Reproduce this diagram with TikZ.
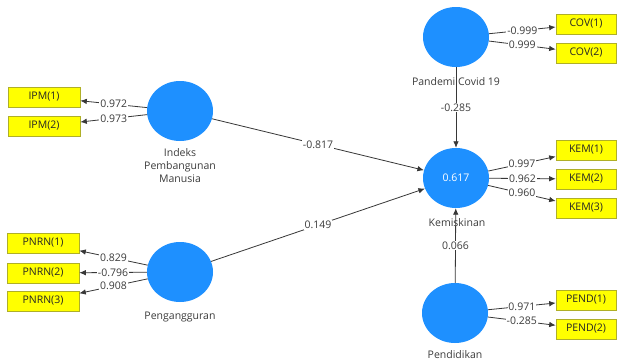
\documentclass[tikz,border=0pt]{standalone}
\usepackage{fontspec}
\setmainfont{Open Sans}
\usetikzlibrary{arrows.meta,shapes.geometric}
\definecolor{lvblue}{RGB}{30,144,255}
\definecolor{mvyellow}{RGB}{255,255,0}
\definecolor{mvborder}{RGB}{175,175,40}
\definecolor{linegray}{RGB}{55,55,55}
\definecolor{txtgray}{RGB}{60,60,60}
\tikzset{
  lv/.style={ellipse, fill=lvblue, draw=none, minimum width=66pt, minimum height=60pt, inner sep=0pt, text=white, font=\fontsize{10.5}{12}\selectfont},
  mvL/.style={rectangle, fill=mvyellow, draw=mvborder, line width=0.6pt, minimum width=72pt, minimum height=20pt, inner sep=0pt, font=\fontsize{10.5}{12}\selectfont, text=black!85},
  mvR/.style={mvL, minimum width=60pt},
  lvlabel/.style={font=\fontsize{10.5}{13}\selectfont, text=txtgray, align=center, inner sep=0pt},
  conn/.style={draw=linegray, line width=0.8pt, -{Latex[length=6.5pt,width=5.5pt]}},
  wlab/.style={midway, fill=white, inner sep=0.8pt, font=\fontsize{10.5}{12}\selectfont, text=txtgray}
}
\begin{document}
\begin{tikzpicture}[x=1pt,y=-1pt]
\useasboundingbox (0,0) rectangle (621,362);
\clip (0,0) rectangle (621,362);
\fill[white] (0,0) rectangle (621,362);
% latent variables
\node[lv] (ipm) at (180,111) {};
\node[lv] (cov) at (456,37) {};
\node[lv] (kem) at (456,178) {0.617};
\node[lv] (png) at (180,272) {};
\node[lv] (pnd) at (455,313) {};
% labels of latent variables
\node[lvlabel, anchor=north] (ipmlab) at (180,148) {Indeks\\Pembangunan\\Manusia};
\node[lvlabel] (covlab) at (456,82) {Pandemi Covid 19};
\node[lvlabel] (kemlab) at (457,223) {Kemiskinan};
\node[lvlabel] (pnglab) at (180,317) {Pengangguran};
\node[lvlabel] (pndlab) at (455,355) {Pendidikan};
% indicators
\node[mvL] (ipm1) at (44,97) {IPM(1)};
\node[mvL] (ipm2) at (44,126) {IPM(2)};
\node[mvL] (pnrn1) at (43,243) {PNRN(1)};
\node[mvL] (pnrn2) at (43,273) {PNRN(2)};
\node[mvL] (pnrn3) at (43,301) {PNRN(3)};
\node[mvR] (cov1) at (586,24) {COV(1)};
\node[mvR] (cov2) at (586,53) {COV(2)};
\node[mvR] (kem1) at (586,150) {KEM(1)};
\node[mvR] (kem2) at (586,179) {KEM(2)};
\node[mvR] (kem3) at (586,208) {KEM(3)};
\node[mvR] (pend1) at (586,300) {PEND(1)};
\node[mvR] (pend2) at (586,329) {PEND(2)};
% outer model
\draw[conn] (ipm) -- node[wlab] {0.972} (ipm1);
\draw[conn] (ipm) -- node[wlab] {0.973} (ipm2);
\draw[conn] (png) -- node[wlab] {0.829} (pnrn1);
\draw[conn] (png) -- node[wlab] {-0.796} (pnrn2);
\draw[conn] (png) -- node[wlab] {0.908} (pnrn3);
\draw[conn] (cov) -- node[wlab] {-0.999} (cov1);
\draw[conn] (cov) -- node[wlab] {0.999} (cov2);
\draw[conn] (kem) -- node[wlab] {0.997} (kem1);
\draw[conn] (kem) -- node[wlab] {0.962} (kem2);
\draw[conn] (kem) -- node[wlab] {0.960} (kem3);
\draw[conn] (pnd) -- node[wlab] {0.971} (pend1);
\draw[conn] (pnd) -- node[wlab] {-0.285} (pend2);
% inner model
\draw[conn] (ipm) -- node[wlab] {-0.817} (kem);
\draw[conn] (png) -- node[wlab] {0.149} (kem);
\draw[conn] (cov) -- node[wlab] {-0.285} (kem);
\draw[conn] (pnd) -- node[wlab] {0.066} (kem);
\end{tikzpicture}
\end{document}
